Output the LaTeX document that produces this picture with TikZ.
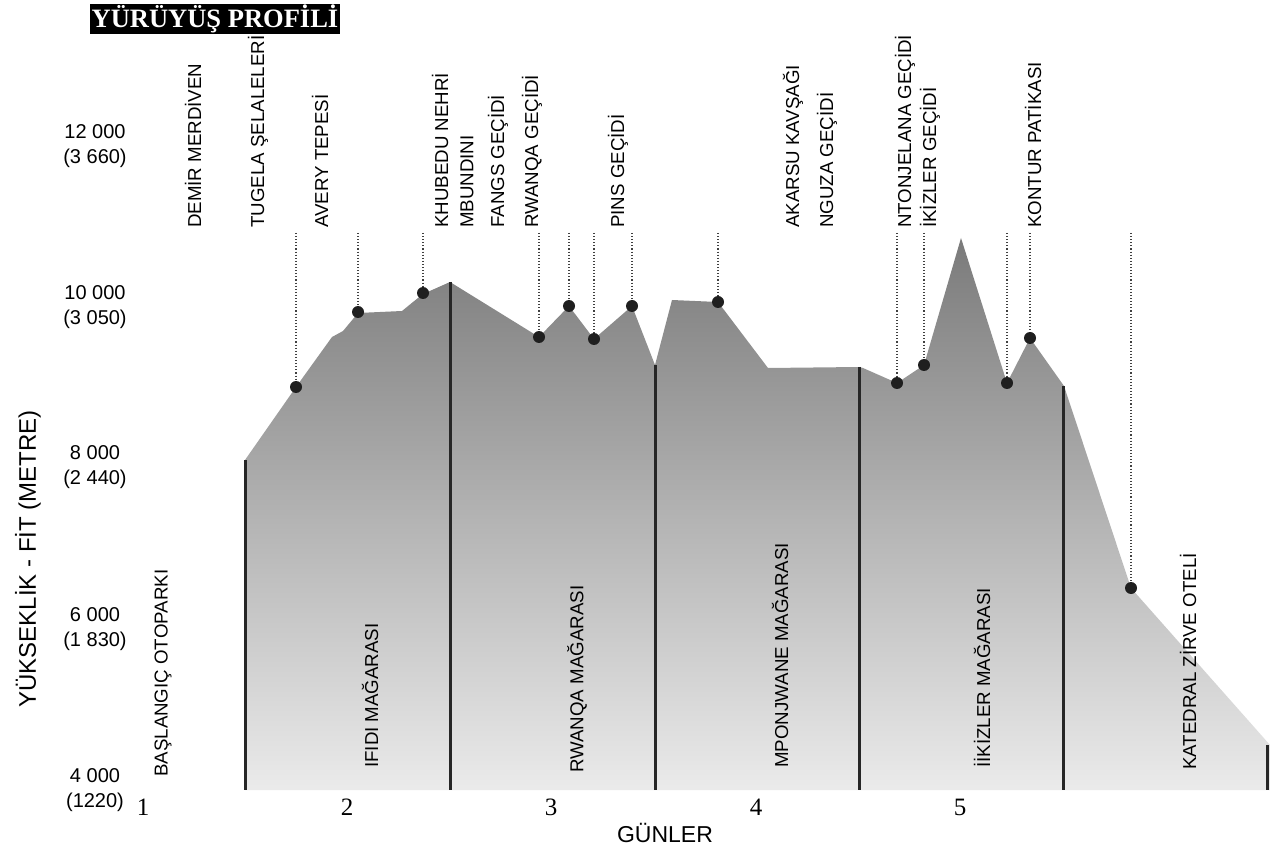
\documentclass[tikz,border=0pt]{standalone}
\usepackage{fontspec}
\setmainfont{Liberation Serif}
\setsansfont{Liberation Sans}
\begin{document}
\begin{tikzpicture}[x=1pt,y=-1pt,
    place/.style={font=\sffamily\fontsize{18.7}{19}\selectfont, rotate=90, anchor=west, inner sep=0pt},
    tick/.style={font=\sffamily\fontsize{20}{20}\selectfont, inner sep=0pt},
    day/.style={font=\fontsize{25}{25}\selectfont, inner sep=0pt},
    stop/.style={circle, fill=black!88, inner sep=0pt, minimum size=12pt},
    divider/.style={line width=3pt, black!85},
    guide/.style={dotted, black!75, line width=1.1pt}]
  \useasboundingbox (0,0) rectangle (1270,850);

  \node[fill=black, text=white, font=\bfseries\fontsize{26.5}{26.5}\selectfont,
    minimum width=250pt, minimum height=30pt, inner sep=0pt] (title) at (215,19) {YÜRÜYÜŞ PROFİLİ};

  % elevation profile
  \shade[top color=black!52, bottom color=black!8]
    (245,790) -- (245,460) -- (296,387) -- (332,337) -- (343,331) -- (358,313)
    -- (402,311) -- (413,302) -- (423,294) -- (450,282) -- (539,337) -- (569,306)
    -- (594,339) -- (632,306) -- (655,365) -- (672,300) -- (718,302) -- (768,368)
    -- (859,367) -- (863,368) -- (897,383) -- (924,365) -- (961,238) -- (1007,383)
    -- (1030,338) -- (1064,386) -- (1131,588) -- (1270,745) -- (1270,790) -- cycle;

  \foreach \x/\ytop in {245/460,450/282,655/365,859/367,1063/386,1267/745}
    \draw[divider] (\x,\ytop) -- (\x,790);

  % waypoints
  \foreach \name/\x/\y in {tugela/296/387,avery/358/312,khubedu/423/293,rwanqa/539/337,
      fangs/569/306,pass/594/339,pins/632/306,akarsu/718/302,ntonjelana/897/383,
      ikizler/924/365,cleft/1007/383,kontur/1030/338,hotel/1131/588} {
    \coordinate (\name-top) at (\x,233);
    \node[stop] (\name) at (\x,\y) {};
    \draw[guide] (\name-top) -- (\name);
  }

  \foreach \x/\txt [count=\i] in {193/DEMİR MERDİVEN,258/TUGELA ŞELALELERİ,320/AVERY TEPESİ,
      440/KHUBEDU NEHRİ,467/MBUNDINI,498/FANGS GEÇİDİ,532/RWANQA GEÇİDİ,618/PINS GEÇİDİ,
      793/AKARSU KAVŞAĞI,827/NGUZA GEÇİDİ,905/NTONJELANA GEÇİDİ,930/İKİZLER GEÇİDİ,
      1033/KONTUR PATİKASI}
    \node[place] (top\i) at (\x,228) {\txt};

  % overnight stops
  \foreach \x/\y/\txt [count=\i] in {163/777/BAŞLANGIÇ OTOPARKI,370/768/IFIDI MAĞARASI,
      577/773/RWANQA MAĞARASI,780/768/MPONJWANE MAĞARASI,982/768/İİKİZLER MAĞARASI,
      1188/770/KATEDRAL ZİRVE OTELİ}
    \node[place] (cave\i) at (\x,\y) {\txt};

  % axes
  \foreach \y/\ft/\m [count=\i] in {132/12 000/3 660,293/10 000/3 050,453/8 000/2 440,
      615/6 000/1 830,776/4 000/1220} {
    \node[tick] (ft\i) at (95,\y) {\ft};
    \node[tick] (m\i) at (95,\y+26) {(\m)};
  }
  \foreach \d/\x in {1/143,2/347,3/551,4/756,5/960}
    \node[day] (day\d) at (\x,807) {\d};
  \node[font=\sffamily\fontsize{23}{23}\selectfont, inner sep=0pt] (days) at (665,833) {GÜNLER};
  \node[font=\sffamily\fontsize{24}{24}\selectfont, rotate=90, inner sep=0pt] (height) at (28,559)
    {YÜKSEKLİK - FİT (METRE)};
\end{tikzpicture}
\end{document}
